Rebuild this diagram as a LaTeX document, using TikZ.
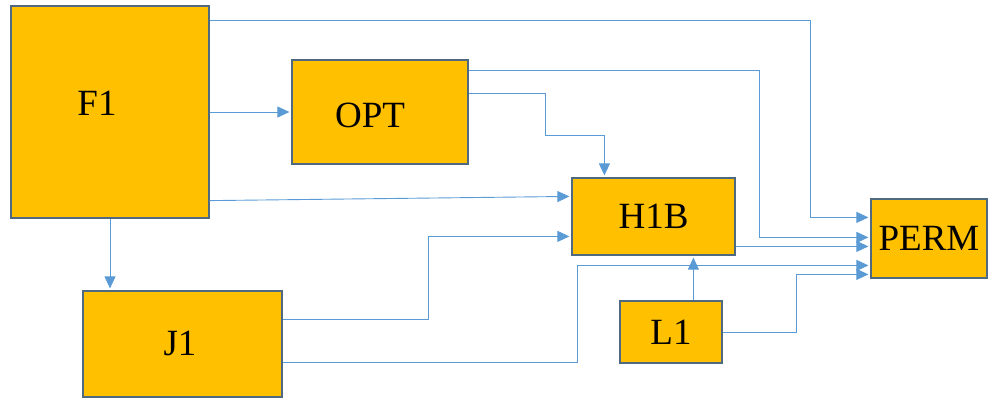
\documentclass[tikz,border=0pt]{standalone}
\usepackage{fontspec}
\setmainfont{Liberation Serif}
\usetikzlibrary{arrows.meta,calc}
\definecolor{boxfill}{HTML}{FFC000}
\definecolor{boxedge}{HTML}{4F6A80}
\definecolor{linec}{HTML}{5B9BD5}
\begin{document}
\begin{tikzpicture}[x=1pt,y=-1pt,
  box/.style={draw=boxedge,line width=1.2pt,fill=boxfill,inner sep=0pt,
    font=\fontsize{37}{40}\selectfont},
  conn/.style={draw=linec,line width=0.9pt,-{Triangle[length=12pt,width=11pt]},shorten >=2pt},
  plain/.style={draw=linec,line width=0.9pt}]
\useasboundingbox (0,0) rectangle (989,400);
% boxes
\node[box,minimum width=198pt,minimum height=212pt] (F1) at (110,112) {};
\node[font=\fontsize{37}{40}\selectfont] at (97,103) {F1};
\node[box,minimum width=176pt,minimum height=104pt] (OPT) at (380,112) {};
\node[font=\fontsize{37}{40}\selectfont] at (370,115) {OPT};
\node[box,minimum width=163pt,minimum height=77pt] (H1B) at (653.5,216.5) {H1B};
\node[box,minimum width=116pt,minimum height=79pt] (PERM) at (929,238.5) {PERM};
\node[box,minimum width=199pt,minimum height=106pt] (J1) at (182.5,344) {};
\node[font=\fontsize{37}{40}\selectfont] at (180,343) {J1};
\node[box,minimum width=102pt,minimum height=62pt] (L1) at (671,332) {L1};
% connectors to PERM
\draw[conn] ($(F1.north east)+(0,15)$) -| ($(PERM.north west)+(-60,19)$) -- ($(PERM.north west)+(0,19)$);
\draw[conn] ($(OPT.north east)+(0,11)$) -| ($(PERM.north west)+(-111,39)$) -- ($(PERM.north west)+(0,39)$);
\draw[conn] ($(H1B.north east)+(0,69)$) -- ($(PERM.north west)+(0,48)$);
\draw[conn] ($(J1.north east)+(0,72)$) -| ($(PERM.north west)+(-293,67)$) -- ($(PERM.north west)+(0,67)$);
\draw[conn] (L1.east) -| ($(PERM.north west)+(-74,76)$) -- ($(PERM.north west)+(0,76)$);
% other connectors
\draw[conn] (F1.east) -- (OPT.west);
\draw[conn] ($(F1.south east)+(0,-18)$) -- ($(H1B.north west)+(0,19)$);
\draw[conn] (F1.south) -- (F1.south |- J1.north);
\draw[conn] ($(OPT.north east)+(0,34)$) -| ($(OPT.north east)+(77,76)$) -| ($(H1B.north west)+(33,0)$);
\draw[conn] ($(J1.north east)+(0,29)$) -| ($(H1B.north west)+(-143,59)$) -- ($(H1B.north west)+(0,59)$);
\coordinate (L1top) at ($(L1.north west)+(74,0)$);
\draw[conn] (L1top) -- (L1top |- H1B.south);
\end{tikzpicture}
\end{document}
